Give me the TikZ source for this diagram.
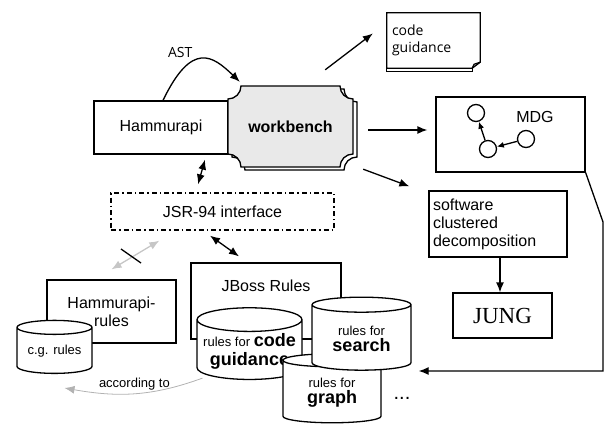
\documentclass[tikz,border=0pt]{standalone}
\usepackage{fontspec}
\setmainfont{Liberation Sans}
\newfontfamily\notefont{Open Sans}
\newfontfamily\jungfont{Liberation Serif}
\usetikzlibrary{arrows.meta, positioning, shapes.geometric}
\newcommand{\topic}[1]{{\fontsize{18}{22}\selectfont\bfseries #1}}
\newcommand{\benchpath}{(241,-86) -- (340,-86) arc[start angle=180, end angle=270, radius=13] -- (353,-154) arc[start angle=90, end angle=180, radius=13] -- (241,-167) arc[start angle=0, end angle=90, radius=13] -- (228,-99) arc[start angle=270, end angle=360, radius=13] -- cycle}
\tikzset{
  >={Latex[length=10pt, width=8pt]},
  x=1pt, y=1pt,
  every node/.style={font=\fontsize{16}{18}\selectfont},
  box/.style={draw, line width=1.3pt, inner sep=3pt},
  store/.style={draw, line width=1.3pt, fill=white, cylinder, shape border rotate=90, aspect=0.25, align=center, inner sep=1pt, font=\fontsize{13}{16}\selectfont},
  dot/.style={circle, draw, line width=1.3pt, minimum size=17pt, inner sep=0pt},
  link/.style={->, line width=1.3pt},
  twoway/.style={<->, line width=1.3pt},
  faded/.style={<->, line width=1.3pt, gray!45},
  note/.style={font=\notefont\fontsize{14}{17}\selectfont},
}
\begin{document}
\begin{tikzpicture}
	\useasboundingbox (0,0) rectangle (604,-428);

	% front end
	\node[box, minimum width=134pt, minimum height=53pt] (ham) at (161,-127.5) {Hammurapi};
	\draw[line width=1.3pt, fill=white, shift={(4,-3)}] \benchpath;
	\draw[line width=1.3pt, fill=gray!17] \benchpath;
	\node[minimum width=125pt, minimum height=81pt] (wb) at (290.5,-126.5) {\bfseries workbench};
	\node[box, dash pattern=on 5pt off 3pt on 1.5pt off 3pt, minimum width=223pt, minimum height=37pt] (jsr) at (222.5,-211.5) {JSR-94 interface};

	% outputs
	\node[note, minimum width=93pt, minimum height=55pt, text width=83pt, align=left, inner sep=5pt] (guide) at (433.5,-40.5) {code\\guidance};
	\draw[line width=1.3pt] (guide.north west) -- (guide.north east) -- ([yshift=6pt]guide.south east) -- ([xshift=-8pt]guide.south east) -- (guide.south west) -- cycle;
	\draw[line width=1.3pt] ([yshift=6pt]guide.south east) -- ([xshift=-6pt, yshift=4pt]guide.south east) -- ([xshift=-8pt]guide.south east);
	\draw[line width=1.3pt] (guide.south west) -- ++(0,-3) -- ([xshift=-8pt, yshift=-3pt]guide.south east) -- ([xshift=-8pt]guide.south east);
	\node[box, minimum width=149pt, minimum height=75pt] (mdg) at (510.5,-134.5) {};
	\node (mdgname) at (535,-117) {MDG};
	\node[dot] (n1) at (476,-113) {};
	\node[dot] (n2) at (488,-149) {};
	\node[dot] (n3) at (526,-139) {};
	\node[box, minimum width=138pt, minimum height=66pt, text width=130pt, align=left] (sw) at (498,-224) {software\\clustered\\decomposition};
	\node[box, minimum width=99pt, minimum height=45pt, font=\jungfont\fontsize{23}{26}\selectfont] (jung) at (502.5,-315.5) {JUNG};

	% rule bases
	\node[box, minimum width=129pt, minimum height=63pt, align=center] (hrules) at (111.5,-311.5) {Hammurapi-\\rules};
	\node[store, minimum width=75pt, minimum height=53pt] (cgr) at (54.5,-351.5) {c.g. rules};
	\node[box, minimum width=150pt, minimum height=76pt] (jboss) at (266,-301) {};
	\node[below=14pt of jboss.north] (jbossname) {JBoss Rules};
	\node[store, minimum width=105pt, minimum height=68pt] (gcyl) at (249.5,-351) {rules for \topic{code}\\[3pt]\topic{guidance}};
	\node[store, minimum width=98pt, minimum height=69pt] (gr) at (332,-392.5) {rules for\\\topic{graph}};
	\node[store, minimum width=99pt, minimum height=73pt] (sr) at (361.5,-338.5) {rules for\\\topic{search}};
	\node[font=\fontsize{20}{20}\selectfont] (more) at (402,-398) {...};

	% connectors
	\draw[link] ([xshift=2pt]ham.north) .. controls +(29,60) and +(-27,26) .. ([xshift=12pt, yshift=4pt]wb.north west) node[note, pos=0.3, above, xshift=-7pt, yshift=3pt] {AST};
	\draw[link] ([xshift=-28pt, yshift=16pt]wb.north east) -- ([xshift=-14pt, yshift=7pt]guide.west);
	\draw[link] ([xshift=15pt, yshift=-3.5pt]wb.east) -- ([xshift=-8pt, yshift=4.5pt]mdg.west);
	\draw[link] ([xshift=10pt, yshift=-2pt]wb.south east) -- ([xshift=-19pt, yshift=4pt]sw.north west);
	\draw[link] ([xshift=2pt]sw.south) -- ([xshift=2pt]sw.south |- jung.north);
	\draw[link, -{Latex[length=7pt, width=6pt]}] (n2) -- (n1);
	\draw[link, -{Latex[length=7pt, width=6pt]}] (n3) -- (n2);
	\coordinate (turn) at (603,-222);
	\coordinate (back) at (603,-371);
	\draw[link, shorten >=7pt] (mdg.south east) -- (turn) -- (back) -- (back -| sr.east);
	\draw[twoway] ([xshift=44pt, yshift=-5pt]ham.south) -- ([xshift=-24.5pt, yshift=8pt]jsr.north);
	\draw[twoway] ([xshift=-12.5pt, yshift=-5pt]jsr.south) -- ([xshift=-27pt, yshift=6pt]jboss.north);
	\draw[faded] ([xshift=49pt, yshift=-10pt]jsr.south west) -- ([yshift=10pt]hrules.north);
	\draw[line width=1.3pt] (121,-249) -- (141,-263);
	\draw[->, gray!60, line width=0.8pt] ([xshift=-47pt, yshift=2pt]gcyl.south) to[out=200, in=-10] node[above, text=black, font=\fontsize{13}{15}\selectfont] {according to} ([xshift=10pt, yshift=-14pt]cgr.south);

\end{tikzpicture}
\end{document}
